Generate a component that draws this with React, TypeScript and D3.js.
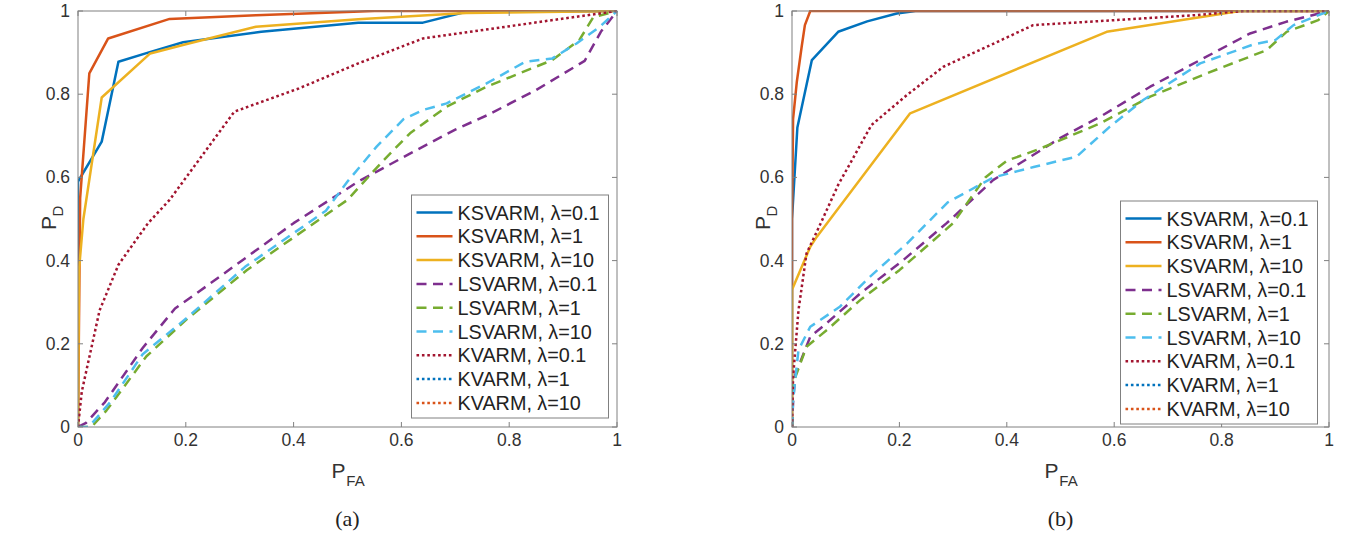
import React from "react";
import * as d3 from "d3";

type Pt = [number, number];

// ---------- Data ----------
const seriesNames = [
  "KSVARM, λ=0.1",
  "KSVARM, λ=1",
  "KSVARM, λ=10",
  "LSVARM, λ=0.1",
  "LSVARM, λ=1",
  "LSVARM, λ=10",
  "KVARM, λ=0.1",
  "KVARM, λ=1",
  "KVARM, λ=10",
];
const seriesColors = ["#0072BD", "#D95319", "#EDB120", "#7E2F8E", "#77AC30", "#4DBEEE", "#A2142F", "#0072BD", "#D95319"];
const seriesStyles = ["solid", "solid", "solid", "dash", "dash", "dash", "dot", "dot", "dot"];

const xTicks = [0, 0.2, 0.4, 0.6, 0.8, 1];
const yTicks = [0, 0.2, 0.4, 0.6, 0.8, 1];
const xTickLabels = ["0", "0.2", "0.4", "0.6", "0.8", "1"];
const yTickLabels = ["0", "0.2", "0.4", "0.6", "0.8", "1"];

// Panel (a)
const aKSVARM01: Pt[] = [[0, 0], [0, 0.59], [0.044, 0.686], [0.075, 0.878], [0.13, 0.9], [0.195, 0.925], [0.34, 0.95], [0.52, 0.972], [0.64, 0.972], [0.72, 0.998], [1, 1]];
const aKSVARM1: Pt[] = [[0, 0], [0.004, 0.55], [0.021, 0.85], [0.056, 0.934], [0.17, 0.981], [0.33, 0.99], [0.55, 1], [1, 1]];
const aKSVARM10: Pt[] = [[0, 0], [0.002, 0.38], [0.01, 0.5], [0.044, 0.792], [0.134, 0.898], [0.2, 0.92], [0.33, 0.962], [0.52, 0.98], [0.72, 0.995], [1, 1]];
const aLSVARM01: Pt[] = [[0, 0], [0.015, 0.01], [0.05, 0.06], [0.12, 0.19], [0.18, 0.285], [0.24, 0.34], [0.4, 0.49], [0.52, 0.59], [0.62, 0.66], [0.7, 0.715], [0.76, 0.75], [0.85, 0.81], [0.94, 0.88], [0.97, 0.95], [1, 1]];
const aLSVARM1: Pt[] = [[0, 0], [0.025, 0], [0.053, 0.04], [0.127, 0.17], [0.2, 0.257], [0.313, 0.377], [0.5, 0.546], [0.566, 0.64], [0.616, 0.706], [0.684, 0.77], [0.758, 0.818], [0.88, 0.882], [0.93, 0.93], [0.956, 0.985], [1, 1]];
const aLSVARM10: Pt[] = [[0, 0], [0.02, 0], [0.06, 0.06], [0.12, 0.175], [0.2, 0.26], [0.31, 0.385], [0.46, 0.52], [0.5, 0.59], [0.554, 0.674], [0.604, 0.74], [0.64, 0.762], [0.684, 0.778], [0.758, 0.826], [0.83, 0.878], [0.88, 0.886], [0.925, 0.922], [0.968, 0.962], [1, 1]];
const aKVARM01: Pt[] = [[0, 0], [0.007, 0.085], [0.04, 0.28], [0.075, 0.39], [0.13, 0.49], [0.17, 0.546], [0.29, 0.758], [0.41, 0.814], [0.52, 0.874], [0.64, 0.934], [1, 1]];
const aKVARM1: Pt[] = [[0, 0], [0, 1], [1, 1]];
const aKVARM10: Pt[] = [[0, 0], [0, 1], [1, 1]];

// Panel (b)
const bKSVARM01: Pt[] = [[0, 0], [0, 0.5], [0.01, 0.72], [0.037, 0.882], [0.086, 0.95], [0.14, 0.975], [0.195, 0.994], [0.23, 1], [1, 1]];
const bKSVARM1: Pt[] = [[0, 0], [0, 0.5], [0.002, 0.74], [0.009, 0.83], [0.018, 0.914], [0.024, 0.966], [0.034, 1], [1, 1]];
const bKSVARM10: Pt[] = [[0, 0], [0, 0.33], [0.034, 0.433], [0.046, 0.457], [0.22, 0.754], [0.586, 0.95], [0.834, 1], [1, 1]];
const bLSVARM01: Pt[] = [[0, 0], [0.002, 0.06], [0.006, 0.125], [0.034, 0.217], [0.065, 0.25], [0.127, 0.321], [0.207, 0.401], [0.288, 0.49], [0.375, 0.594], [0.5, 0.695], [0.574, 0.746], [0.667, 0.818], [0.76, 0.882], [0.853, 0.946], [0.92, 0.974], [1, 1]];
const bLSVARM1: Pt[] = [[0, 0], [0.002, 0.105], [0.027, 0.193], [0.065, 0.233], [0.127, 0.305], [0.2, 0.377], [0.3, 0.49], [0.36, 0.6], [0.4, 0.64], [0.46, 0.668], [0.574, 0.73], [0.667, 0.794], [0.772, 0.85], [0.884, 0.906], [0.921, 0.95], [0.98, 0.978], [1, 1]];
const bLSVARM10: Pt[] = [[0, 0], [0.002, 0.065], [0.012, 0.185], [0.034, 0.241], [0.089, 0.289], [0.145, 0.361], [0.214, 0.441], [0.29, 0.54], [0.375, 0.6], [0.45, 0.625], [0.53, 0.65], [0.592, 0.722], [0.654, 0.786], [0.76, 0.874], [0.86, 0.92], [0.9, 0.93], [0.934, 0.966], [1, 1]];
const bKVARM01: Pt[] = [[0, 0], [0.002, 0.12], [0.012, 0.28], [0.027, 0.417], [0.05, 0.48], [0.086, 0.582], [0.148, 0.726], [0.214, 0.798], [0.282, 0.866], [0.363, 0.914], [0.449, 0.966], [0.6, 0.978], [0.75, 0.99], [0.84, 1], [1, 1]];
const bKVARM1: Pt[] = [[0, 0], [0, 1], [1, 1]];
const bKVARM10: Pt[] = [[0, 0], [0, 1], [1, 1]];

const panelA = [aKSVARM01, aKSVARM1, aKSVARM10, aLSVARM01, aLSVARM1, aLSVARM10, aKVARM01, aKVARM1, aKVARM10];
const panelB = [bKSVARM01, bKSVARM1, bKSVARM10, bLSVARM01, bLSVARM1, bLSVARM10, bKVARM01, bKVARM1, bKVARM10];

const LW = 2.5;
const dashFor = (s: string) => (s === "dash" ? "10 6.5" : s === "dot" ? "2.6 2.8" : undefined);
const FONT = "'Liberation Sans', Arial, Helvetica, sans-serif";
const AXIS = "#808080";
const TEXT = "#333";

interface PanelProps {
  id: string;
  data: Pt[][];
  x0: number;
  x1: number;
  legendX: number;
  legendY: number;
  caption: string;
}

function Panel({ id, data, x0, x1, legendX, legendY, caption }: PanelProps) {
  const top = 11;
  const bottom = 427;
  const x = d3.scaleLinear().domain([0, 1]).range([x0, x1]);
  const y = d3.scaleLinear().domain([0, 1]).range([bottom, top]);
  const line = d3
    .line<Pt>()
    .x((d) => x(d[0]))
    .y((d) => y(d[1]));
  const cx = (x0 + x1) / 2;
  const tickLen = 5;
  const hidden = [7, 8];
  const visible = [0, 1, 2, 3, 4, 5, 6];
  const legW = 197;
  const rowH = 23.8;
  const legH = 223;
  return (
    <g>
      <defs>
        <clipPath id={`clip-${id}`}>
          <rect x={x0} y={top - 1} width={x1 - x0 + 1} height={bottom - top + 1} />
        </clipPath>
        <clipPath id={`clipin-${id}`}>
          <rect x={x0 + 2.5} y={top + 2.5} width={x1 - x0 - 5} height={bottom - top - 5} />
        </clipPath>
      </defs>
      <g clipPath={`url(#clipin-${id})`}>
        {hidden.map((i) => (
          <path
            key={i}
            d={line(data[i]) || ""}
            fill="none"
            stroke={seriesColors[i]}
            strokeWidth={LW}
            strokeDasharray={dashFor(seriesStyles[i])}
          />
        ))}
      </g>
      <g clipPath={`url(#clip-${id})`}>
        {visible.map((i) => (
          <path
            key={i}
            d={line(data[i]) || ""}
            fill="none"
            stroke={seriesColors[i]}
            strokeWidth={LW}
            strokeDasharray={dashFor(seriesStyles[i])}
            strokeLinejoin="round"
          />
        ))}
      </g>
      {/* frame */}
      <rect x={x0} y={top} width={x1 - x0} height={bottom - top} fill="none" stroke={AXIS} strokeWidth={1} />
      {/* ticks */}
      {xTicks.map((t, i) => (
        <g key={"xt" + i}>
          <line x1={x(t)} x2={x(t)} y1={bottom} y2={bottom - tickLen} stroke={AXIS} />
          <line x1={x(t)} x2={x(t)} y1={top} y2={top + tickLen} stroke={AXIS} />
          <text x={x(t)} y={bottom + 19} textAnchor="middle" fontFamily={FONT} fontSize={17.5} fill={TEXT}>
            {xTickLabels[i]}
          </text>
        </g>
      ))}
      {yTicks.map((t, i) => (
        <g key={"yt" + i}>
          <line x1={x0} x2={x0 + tickLen} y1={y(t)} y2={y(t)} stroke={AXIS} />
          <line x1={x1} x2={x1 - tickLen} y1={y(t)} y2={y(t)} stroke={AXIS} />
          <text x={x0 - 8} y={y(t) + 6} textAnchor="end" fontFamily={FONT} fontSize={17.5} fill={TEXT}>
            {yTickLabels[i]}
          </text>
        </g>
      ))}
      {/* axis labels */}
      <text x={cx - 9} y={478} fontFamily={FONT} fontSize={21} fill={TEXT} textAnchor="middle">
        P
      </text>
      <text x={cx + 8} y={486} fontFamily={FONT} fontSize={15} fill={TEXT} textAnchor="middle">
        FA
      </text>
      <g transform={`translate(${x0 - 22}, ${(top + bottom) / 2}) rotate(-90)`}>
        <text x={-4} y={0} fontFamily={FONT} fontSize={21} fill={TEXT} textAnchor="middle">
          P
        </text>
        <text x={8} y={7} fontFamily={FONT} fontSize={15} fill={TEXT} textAnchor="middle">
          D
        </text>
      </g>
      <text x={cx} y={526} fontFamily="'Liberation Serif', 'Times New Roman', serif" fontSize={22} fill="#222" textAnchor="middle">
        {caption}
      </text>
      {/* legend */}
      <rect x={legendX} y={legendY} width={legW} height={legH} fill="#fff" stroke={AXIS} strokeWidth={1} />
      {seriesNames.map((name, i) => {
        const ry = legendY + 17.5 + i * rowH;
        return (
          <g key={"lg" + i}>
            <line
              x1={legendX + 5}
              x2={legendX + 41}
              y1={ry}
              y2={ry}
              stroke={seriesColors[i]}
              strokeWidth={LW}
              strokeDasharray={dashFor(seriesStyles[i])}
            />
            <text x={legendX + 46} y={ry + 7} fontFamily={FONT} fontSize={19.8} fill="#222">
              {name}
            </text>
          </g>
        );
      })}
    </g>
  );
}

export default function App() {
  return (
    <div style={{ position: "absolute", left: 0, top: 0 }}>
      <svg width={1350} height={542} viewBox="0 0 1350 542" style={{ display: "block", background: "#fff" }}>
        <Panel id="a" data={panelA} x0={78} x1={617} legendX={411.5} legendY={195} caption="(a)" />
        <Panel id="b" data={panelB} x0={792} x1={1329} legendX={1120.5} legendY={201} caption="(b)" />
      </svg>
    </div>
  );
}
